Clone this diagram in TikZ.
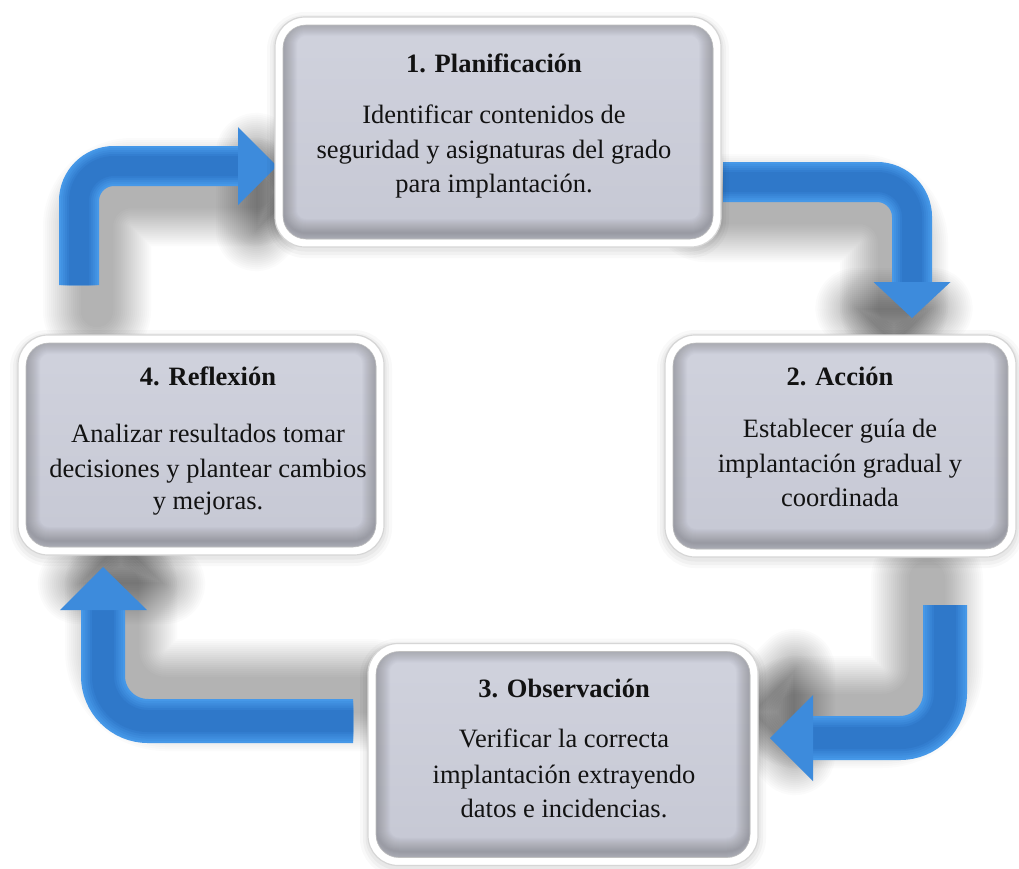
\documentclass[tikz,border=0pt]{standalone}
\usepackage{fontspec}
\setmainfont{Liberation Serif}
\usetikzlibrary{calc}
\definecolor{boxtop}{RGB}{208,210,221}
\definecolor{boxbot}{RGB}{198,200,212}
\definecolor{arrowlight}{RGB}{70,152,232}
\definecolor{arrowmid}{RGB}{54,133,216}
\definecolor{arrowdark}{RGB}{44,116,198}
\definecolor{inktext}{RGB}{18,18,18}
\newcommand\bentarrow[9]{%
  \foreach \k in {1,...,20}{%
    \draw[transform canvas={shift={#9}}, draw=black, draw opacity=0.014, line cap=round, line width={(#4-12+4*\k)*1pt}, rounded corners=#5pt] (#1) #2 (#3);
    \draw[transform canvas={shift={#9}}, draw=black, draw opacity=0.014, line width={(4*\k)*1pt}, line join=round] (#6) -- (#7) -- (#8) -- cycle;
  }%
  \fill[transform canvas={shift={#9}}, black, fill opacity=0.02] (#6) -- (#7) -- (#8) -- cycle;
  \foreach \f/\p in {1/0,0.9/18,0.8/36,0.7/54,0.6/72,0.5/90}{%
    \draw[draw=arrowdark!\p!arrowlight, line width={\f*#4*1pt}, rounded corners=#5pt] (#1) #2 (#3);
  }%
  \fill[arrowdark!35!arrowlight] (#6) -- (#7) -- (#8) -- cycle;
}
\begin{document}
\begin{tikzpicture}[x=1pt,y=-1pt,
  boxouter/.style={rectangle, rounded corners=30pt, inner sep=0pt, fill=white, draw=black!16, line width=1.2pt,
    preaction={draw=black, draw opacity=0.025, line width=16pt, transform canvas={yshift=-3pt}},
    preaction={draw=black, draw opacity=0.03, line width=10pt, transform canvas={yshift=-3pt}},
    preaction={draw=black, draw opacity=0.035, line width=5pt, transform canvas={yshift=-2pt}}},
  boxinner/.style={rectangle, rounded corners=23pt, inner sep=0pt, top color=boxtop, bottom color=boxbot,
    draw=black!25, line width=0.6pt,
    path picture={\foreach \lw in {2,4,...,28}{\draw[draw=black, draw opacity=0.014, line width=\lw pt, rounded corners=23pt]
      ([yshift=6pt]path picture bounding box.south west) rectangle ([yshift=3pt]path picture bounding box.north east);}}},
  ttl/.style={anchor=base, text=inktext, font=\fontsize{26.5}{32}\selectfont\bfseries},
  txt/.style={anchor=base, text=inktext, font=\fontsize{26.5}{32}\selectfont}
]
\useasboundingbox (0,0) rectangle (1019,868);
\fill[white] (0,0) rectangle (1019,868);

% arrow coordinates
\coordinate (a1s) at (79,285);  \coordinate (a1b) at (238,166);
\coordinate (a1u) at (238,127); \coordinate (a1t) at (277,166); \coordinate (a1d) at (238,205);
\coordinate (a2s) at (723,182); \coordinate (a2b) at (912,282);
\coordinate (a2u) at (873.5,282); \coordinate (a2t) at (912,318); \coordinate (a2d) at (950.5,282);
\coordinate (a3s) at (945,605); \coordinate (a3b) at (813,738);
\coordinate (a3u) at (813,695); \coordinate (a3t) at (770,738); \coordinate (a3d) at (813,781);
\coordinate (a4s) at (353,721); \coordinate (a4b) at (103,610);
\coordinate (a4u) at (60,610); \coordinate (a4t) at (103,567); \coordinate (a4d) at (147,610);

\bentarrow{a1s}{|-}{a1b}{40}{35}{a1u}{a1t}{a1d}{(18,26)}
\bentarrow{a2s}{-|}{a2b}{40}{35}{a2u}{a2t}{a2d}{(-18,26)}
\bentarrow{a3s}{|-}{a3b}{44}{45}{a3u}{a3t}{a3d}{(-18,-26)}
\bentarrow{a4s}{-|}{a4b}{44}{45}{a4u}{a4t}{a4d}{(18,-26)}

% boxes
\node[boxouter, minimum width=446pt, minimum height=230pt] (b1) at (498,132) {};
\node[boxinner, minimum width=430pt, minimum height=214pt] (b1i) at (b1.center) {};
\node[boxouter, minimum width=351pt, minimum height=222pt] (b2) at (840.5,446) {};
\node[boxinner, minimum width=335pt, minimum height=206pt] (b2i) at (b2.center) {};
\node[boxouter, minimum width=390pt, minimum height=222pt] (b3) at (563,754.5) {};
\node[boxinner, minimum width=374pt, minimum height=206pt] (b3i) at (b3.center) {};
\node[boxouter, minimum width=366pt, minimum height=220pt] (b4) at (201,445) {};
\node[boxinner, minimum width=350pt, minimum height=204pt] (b4i) at (b4.center) {};

% texts
\node[ttl] (t1) at (494,72) {1. Planificación};
\node[txt] (t1a) at (494,123) {Identificar contenidos de};
\node[txt] (t1b) at (494,158) {seguridad y asignaturas del grado};
\node[txt] (t1c) at (494,192) {para implantación.};

\node[ttl] (t2) at (840,385) {2. Acción};
\node[txt] (t2a) at (840,437) {Establecer guía de};
\node[txt] (t2b) at (840,472) {implantación gradual y};
\node[txt] (t2c) at (840,506) {coordinada};

\node[ttl] (t3) at (564,697) {3. Observación};
\node[txt] (t3a) at (564,747) {Verificar la correcta};
\node[txt] (t3b) at (564,783) {implantación extrayendo};
\node[txt] (t3c) at (564,817) {datos e incidencias.};

\node[ttl] (t4) at (208,385) {4. Reflexión};
\node[txt] (t4a) at (208,442) {Analizar resultados tomar};
\node[txt] (t4b) at (208,477) {decisiones y plantear cambios};
\node[txt] (t4c) at (208,509) {y mejoras.};
\end{tikzpicture}
\end{document}
